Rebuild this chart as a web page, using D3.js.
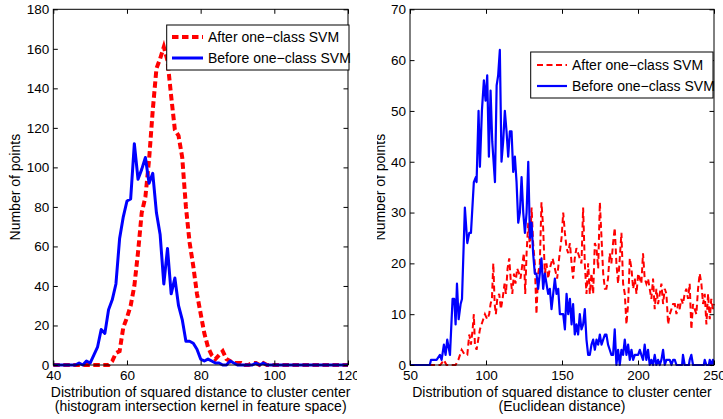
<!DOCTYPE html>
<html>
<head>
<meta charset="utf-8">
<script src="https://cdn.jsdelivr.net/npm/d3@7"></script>
<style>
  body { margin: 0; background: #fff; }
  svg { display: block; font-family: "Liberation Sans", Arial, Helvetica, sans-serif; }
  .tick text { font-size: 13.5px; fill: #000; }
  .tick line { stroke: #000; }
</style>
</head>
<body>
<div id="chart"></div>
<script>
// Left panel: histogram intersection kernel, one bin per unit from 40 to 120.
var leftBins = d3.range(40, 121);
var leftAfter = [
  0, 0, 0, 0, 0, 0, 0, 0, 0, 0, 0, 0, 0, 0, 0, 0,
  2, 6, 7, 19, 24, 30, 40, 57, 77, 85, 104, 129, 150, 155, 161, 154,
  136, 119, 116, 105, 80, 62, 50, 36, 26, 16, 9, 5, 3, 5, 7, 3,
  2, 1, 1, 1, 0, 0, 1, 1, 0, 1,
  0, 0, 0, 0, 0, 0, 0, 0, 0, 0, 0, 0, 0, 0, 0, 0, 0, 0, 0, 0, 0, 0, 0
];
var leftBefore = [
  0, 0, 0, 0, 0, 0, 0,
  1, 0, 2, 1, 5, 9, 18, 16, 28, 33, 41, 64, 75, 83, 84, 112, 94, 99,
  105, 92, 97, 77, 66, 41, 59, 36, 44, 30, 23, 12, 12, 11, 8, 3, 2, 3,
  2, 1, 1, 0, 0, 2, 1, 0, 0, 0, 0, 0, 1, 0, 1,
  0, 0, 0, 0, 0, 0, 0, 0, 0, 0, 0, 0, 0, 0, 0, 0, 0, 0, 0, 0, 0, 0, 0
];
var leftXTicks = [40, 60, 80, 100, 120];
var leftYTicks = [0, 20, 40, 60, 80, 100, 120, 140, 160, 180];

// Right panel: Euclidean distance, [distance, count].
var rightAfter = [
  [50, 0], [70, 0], [72.3, 1], [74, 0], [80, 0], [81.8, 1], [84, 3], [86.1, 2], [87.7, 2],
  [89, 6], [90.1, 4], [91.2, 7], [92, 10], [92.7, 4], [93.8, 3], [96, 7], [98.2, 9],
  [99.3, 10], [100.8, 9], [102.1, 10], [103, 12], [103.9, 13], [104.8, 20], [105.7, 12],
  [106.5, 10], [107.4, 13], [108.7, 14], [109.8, 11], [110.9, 13], [112.2, 16], [113.1, 14],
  [114.2, 19], [115.3, 21], [116.2, 17], [117.3, 14], [118.4, 18], [119.4, 16], [120.5, 19],
  [121.8, 18], [122.7, 17], [124, 20], [124.9, 22], [125.8, 14], [126.7, 22], [127.8, 28],
  [128.9, 23], [130, 31], [131, 24], [132.1, 20], [133.2, 10], [134.3, 18], [135.4, 20],
  [136.5, 32], [137.6, 27], [138.7, 18], [139.8, 20], [140.9, 17], [142, 19], [143.8, 21],
  [145.3, 19], [146.8, 17], [148.1, 21], [149.7, 25], [150.8, 30], [151.9, 26], [153, 23],
  [154.1, 22], [155.2, 24], [156.3, 20], [157.3, 17], [158.4, 21], [159.5, 23], [160.6, 22],
  [161.7, 21], [162.8, 20], [163.9, 31], [165, 20], [166.1, 14], [167.2, 20], [168.3, 14],
  [169.4, 18], [170.5, 14], [171.6, 24], [172.7, 23], [173.8, 19], [174.9, 32], [176, 25],
  [177.1, 18], [178.2, 15], [179.2, 15], [180.3, 17], [181.4, 22], [182.5, 20], [183.6, 24],
  [184.7, 27], [185.8, 20], [186.9, 16], [188, 21], [189.1, 26], [190.2, 16], [191.3, 14],
  [192.4, 8], [193.5, 12], [194.6, 21], [195.7, 19], [196.8, 15], [197.9, 17], [199, 14],
  [200.1, 18], [201.2, 17], [202.2, 16], [203.3, 22], [204.4, 17], [205.5, 16], [206.6, 17],
  [207.7, 15], [208.8, 13], [209.9, 17], [211, 11], [212.1, 15], [213.2, 12], [214.3, 14],
  [215.4, 16], [216.5, 12], [217.6, 15], [218.7, 14], [219.8, 8], [220.9, 10], [222, 11],
  [223.1, 12], [224.2, 12], [225.3, 10], [226.4, 12], [227.4, 11], [228.5, 13], [229.6, 12],
  [230.7, 14], [231.8, 15], [232.9, 13], [234, 16], [235.1, 7], [236.2, 12], [237.3, 11],
  [238.4, 10], [239.5, 15], [240.6, 18], [241.7, 16], [242.8, 12], [243.9, 14], [245, 8],
  [246.1, 14], [247.2, 9], [248.2, 13], [249.3, 11], [250, 12]
];
var rightBefore = [
  [50, 0], [63, 0], [63.8, 1], [65.3, 1], [67.5, 1], [69.7, 2], [70.8, 1], [72.3, 4],
  [73.4, 2], [74.5, 5], [76.3, 2], [78, 13], [79.1, 13], [80, 8], [80.9, 16], [82, 9],
  [83.3, 12], [84.2, 13], [86.1, 31], [87.7, 24], [89, 26], [90.1, 26], [92, 36], [93.4, 37],
  [93.8, 36], [95.1, 50], [96, 39], [97.3, 50], [98.6, 56], [99.7, 52], [100.8, 57],
  [101.9, 41], [103, 54], [104.1, 44], [105.9, 36], [107, 55], [108, 57], [109.1, 62],
  [110.2, 40], [111.3, 44], [112.4, 50], [113.5, 46], [114.6, 41], [115.7, 46], [116.8, 46],
  [117.9, 38], [119, 41], [120.1, 36], [121.2, 28], [122.3, 30], [123.4, 37], [124.5, 30],
  [125.6, 26], [126.7, 30], [127.8, 40], [128.9, 25], [130, 28], [131, 22], [132.1, 18],
  [133.2, 18], [134.3, 15], [135.4, 18], [136.5, 21], [137.6, 15], [138.7, 18], [139.8, 16],
  [140.9, 14], [142, 15], [143.1, 11], [144.2, 14], [145.3, 17], [146.4, 14], [147.5, 15],
  [148.6, 10], [149.7, 10], [150.8, 10], [151.9, 7], [153, 14], [154.1, 10], [155.2, 13],
  [156.3, 8], [157.3, 12], [158.4, 6], [159.5, 8], [160.6, 6], [161.7, 10], [162.8, 7],
  [163.9, 8], [165, 11], [166.1, 5], [167.2, 2], [168.3, 2], [169.4, 4], [170.5, 5],
  [171.6, 3], [172.7, 5], [173.8, 4], [174.9, 6], [176, 4], [177.1, 5], [178.2, 6],
  [179.2, 6], [180.3, 4], [181.4, 3], [182.5, 2], [183.6, 2], [184.7, 7], [185.8, 0],
  [186.9, 3], [188, 0], [189.1, 3], [190.2, 2], [191.3, 5], [192.4, 2], [193.5, 4],
  [194.6, 1], [195.7, 3], [196.8, 1], [197.9, 2], [199, 2], [200.1, 2], [201.2, 3],
  [202.2, 2], [203.3, 1], [204.4, 4], [205.5, 1], [206.6, 3], [207.7, 0], [208.8, 1],
  [209.9, 0], [211, 2], [212.1, 0], [213.2, 1], [214.3, 0], [215.4, 1], [216.5, 3],
  [217.6, 0], [218.7, 1], [219.8, 1], [220.9, 1], [222, 0], [223.1, 1], [224.2, 1],
  [225.3, 0], [229, 0], [229.6, 2], [230.7, 0], [233.5, 0], [234, 1], [235.1, 2],
  [236.2, 0], [243.3, 0], [243.9, 1], [245, 0], [246.6, 0], [247.2, 1], [248.2, 0],
  [249.3, 1], [250, 0]
];
var rightXTicks = [50, 100, 150, 200, 250];
var rightYTicks = [0, 10, 20, 30, 40, 50, 60, 70];

var legendLabels = ['After one\u2212class SVM', 'Before one\u2212class SVM'];
var xLabelTop = 'Distribution of squared distance to cluster center';
var yLabel = 'Number of points';

var width = 723, height = 419;
var TICK = 4.5;
var LABEL_SIZE = 14;

var svg = d3.select('#chart').append('svg')
  .attr('width', width)
  .attr('height', height);

function drawPanel(cfg) {
  var clipId = 'clip-' + cfg.id;
  svg.append('clipPath').attr('id', clipId)
    .append('rect')
    .attr('x', cfg.clip[0]).attr('y', 0)
    .attr('width', cfg.clip[1] - cfg.clip[0]).attr('height', height);

  var g = svg.append('g').attr('clip-path', 'url(#' + clipId + ')');

  var x = d3.scaleLinear().domain(cfg.xDomain).range([cfg.left, cfg.right]);
  var y = d3.scaleLinear().domain(cfg.yDomain).range([cfg.bottom, cfg.top]);

  g.append('rect')
    .attr('x', cfg.left).attr('y', cfg.top)
    .attr('width', cfg.right - cfg.left).attr('height', cfg.bottom - cfg.top)
    .attr('fill', '#fff');

  var line = d3.line().x(function (d) { return x(d[0]); }).y(function (d) { return y(d[1]); });

  // After first, Before on top (legend order).
  g.append('path')
    .datum(cfg.after)
    .attr('d', line)
    .attr('fill', 'none')
    .attr('stroke', '#ff0000')
    .attr('stroke-width', cfg.afterWidth)
    .attr('stroke-dasharray', cfg.dash);

  g.append('path')
    .datum(cfg.before)
    .attr('d', line)
    .attr('fill', 'none')
    .attr('stroke', '#0000ff')
    .attr('stroke-width', cfg.beforeWidth)
    .attr('stroke-linejoin', 'round');

  // Axes with inward ticks on all four sides.
  var axes = [
    { ax: d3.axisBottom(x).tickValues(cfg.xTicks).tickPadding(5), t: 'translate(0,' + cfg.bottom + ')' },
    { ax: d3.axisTop(x).tickValues(cfg.xTicks).tickFormat(''), t: 'translate(0,' + cfg.top + ')' },
    { ax: d3.axisLeft(y).tickValues(cfg.yTicks).tickPadding(4), t: 'translate(' + cfg.left + ',0)' },
    { ax: d3.axisRight(y).tickValues(cfg.yTicks).tickFormat(''), t: 'translate(' + cfg.right + ',0)' }
  ];
  axes.forEach(function (a) {
    var ag = g.append('g')
      .attr('transform', a.t)
      .call(a.ax.tickSizeInner(-TICK).tickSizeOuter(0));
    ag.select('.domain').remove();
    ag.selectAll('.tick text').attr('font-family', null).attr('font-size', null);
  });
  g.selectAll('.tick line').attr('stroke-width', 1);

  g.append('rect')
    .attr('x', cfg.left).attr('y', cfg.top)
    .attr('width', cfg.right - cfg.left).attr('height', cfg.bottom - cfg.top)
    .attr('fill', 'none')
    .attr('stroke', '#000')
    .attr('stroke-width', 1);

  // Axis labels.
  var cx = (cfg.left + cfg.right) / 2;
  g.append('text')
    .attr('x', cx).attr('y', 397)
    .attr('text-anchor', 'middle')
    .attr('font-size', LABEL_SIZE)
    .text(xLabelTop);
  g.append('text')
    .attr('x', cx).attr('y', 411)
    .attr('text-anchor', 'middle')
    .attr('font-size', LABEL_SIZE)
    .text(cfg.xLabel2);
  g.append('text')
    .attr('transform', 'translate(' + cfg.yLabelX + ',' + (cfg.top + cfg.bottom) / 2 + ') rotate(-90)')
    .attr('text-anchor', 'middle')
    .attr('font-size', LABEL_SIZE)
    .text(yLabel);

  // Legend.
  var lg = g.append('g');
  var L = cfg.legend;
  lg.append('rect')
    .attr('x', L.x0).attr('y', L.y0)
    .attr('width', L.x1 - L.x0).attr('height', L.y1 - L.y0)
    .attr('fill', '#fff')
    .attr('stroke', '#000')
    .attr('stroke-width', 1);
  var styles = [
    { color: '#ff0000', w: cfg.afterWidth, dash: cfg.dash },
    { color: '#0000ff', w: cfg.beforeWidth, dash: null }
  ];
  legendLabels.forEach(function (label, i) {
    var ry = L.rows[i];
    lg.append('line')
      .attr('x1', L.sx0).attr('x2', L.sx1)
      .attr('y1', ry).attr('y2', ry)
      .attr('stroke', styles[i].color)
      .attr('stroke-width', styles[i].w)
      .attr('stroke-dasharray', styles[i].dash);
    lg.append('text')
      .attr('x', L.tx).attr('y', ry + 5)
      .attr('font-size', LABEL_SIZE)
      .text(label);
  });
}

drawPanel({
  id: 'left',
  left: 53.3, right: 348, top: 9.3, bottom: 365,
  clip: [0, 357],
  xDomain: [40, 120], yDomain: [0, 180],
  xTicks: leftXTicks, yTicks: leftYTicks,
  after: leftBins.map(function (b, i) { return [b, leftAfter[i]]; }),
  before: leftBins.map(function (b, i) { return [b, leftBefore[i]]; }),
  afterWidth: 4, beforeWidth: 3, dash: '6.5,3.5',
  xLabel2: '(histogram intersection kernel in feature space)',
  yLabelX: 20,
  legend: { x0: 166.7, x1: 349, y0: 25, y1: 70, rows: [37, 58], sx0: 172, sx1: 203, tx: 208 }
});

drawPanel({
  id: 'right',
  left: 410, right: 714, top: 9.3, bottom: 365,
  clip: [377, 723],
  xDomain: [50, 250], yDomain: [0, 70],
  xTicks: rightXTicks, yTicks: rightYTicks,
  after: rightAfter,
  before: rightBefore,
  afterWidth: 2, beforeWidth: 2.2, dash: '6,3.5',
  xLabel2: '(Euclidean distance)',
  yLabelX: 385,
  legend: { x0: 530.7, x1: 713, y0: 52, y1: 98, rows: [65, 86], sx0: 537, sx1: 567, tx: 572 }
});
</script>
</body>
</html>
